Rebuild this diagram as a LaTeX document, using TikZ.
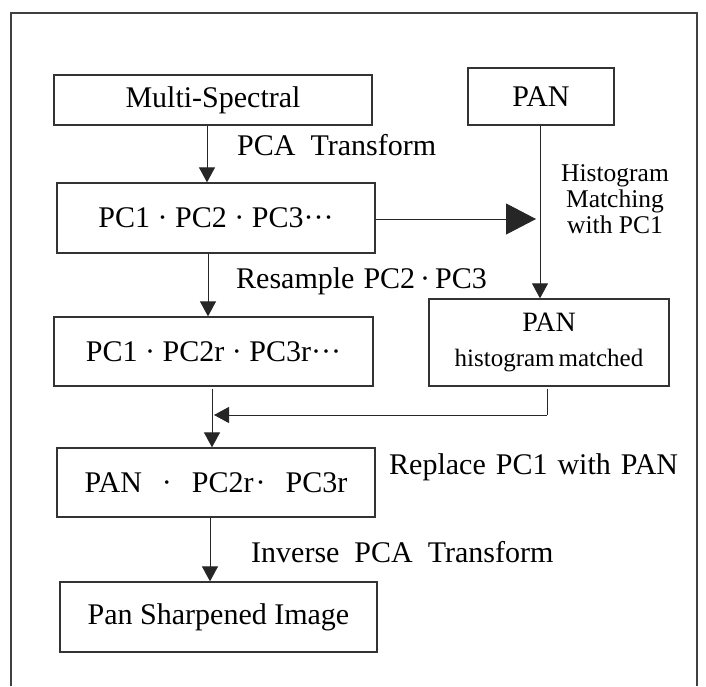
\documentclass[tikz,border=0pt]{standalone}
\usepackage{fontspec}
\setmainfont{Liberation Serif}
\usetikzlibrary{arrows.meta}
\begin{document}
\begin{tikzpicture}[x=1pt,y=-1pt,
  box/.style={draw=black!80, line width=1.3pt, minimum width=#1, inner sep=0pt,
    font=\fontsize{30}{34}\selectfont},
  lbl/.style={anchor=west, inner sep=0pt, font=\fontsize{30}{34}\selectfont},
  small/.style={inner sep=0pt, align=center, font=\fontsize{25.5}{26}\selectfont},
  arr/.style={draw=black!85, line width=1pt, -{Triangle[length=15pt,width=16pt]}},
  bigarr/.style={draw=black!85, line width=1pt, -{Triangle[length=30pt,width=31pt]}},
  plain/.style={draw=black!85, line width=1pt}]
\useasboundingbox (0,0) rectangle (706,686);
% outer frame, open at the bottom
\draw[draw=black!75, line width=1.5pt] (11,686) -- (11,13) -- (697,13) -- (697,686);

% boxes
\node[box=318pt, minimum height=50pt] (ms) at (213,100) {Multi-Spectral};
\node[box=146pt, minimum height=57pt] (pan) at (541,96.5) {PAN};
\node[box=318pt, minimum height=70pt] (pc) at (216,218) {PC1 · PC2 · PC3···};
\node[box=319pt, minimum height=69pt] (pcr) at (213.5,351.5) {PC1 · PC2r · PC3r···};
\node[box=240pt, minimum height=87pt, align=center,
      font=\fontsize{25}{35}\selectfont] (panm) at (549,342.5)
  {{\fontsize{28}{35}\selectfont PAN}\\histogram\hspace{4pt}matched};
\node[box=318pt, minimum height=69pt] (pp) at (216,482.5)
  {PAN\hspace{20pt}·\hspace{20pt}PC2r\hspace{2pt}·\hspace{20pt}PC3r};
\node[box=317pt, minimum height=70pt] (ps) at (218.5,617) {Pan Sharpened Image};

% labels
\node[lbl] (l1) at (237,145) {PCA\ \ Transform};
\node[lbl] (l2) at (236,281) {Resample\hspace{9pt}PC2\hspace{5pt}·\hspace{5pt}PC3};
\node[lbl] (l3) at (389,467) {Replace\hspace{10pt}PC1\hspace{10pt}with\hspace{10pt}PAN};
\node[lbl] (l4) at (251,552) {Inverse\ \ PCA\ \ Transform};
\node[small] (l5) at (615,199) {Histogram\\Matching\\with PC1};

% connector columns
\coordinate (c1) at (207,0);
\coordinate (c2) at (208,0);
\coordinate (c3) at (212,0);
\coordinate (c4) at (210,0);
\coordinate (c5) at (547,0);
\coordinate (bend) at (547,415);

% connectors
\draw[arr] (ms.south -| c1) -- (pc.north -| c1);
\draw[arr] (pan.south -| 540,0) -- (panm.north -| 540,0);
\draw[bigarr, shorten >=4pt] (pc.east |- 0,219) -- (540,219);
\draw[arr] (pc.south -| c2) -- (pcr.north -| c2);
\draw[arr] (pcr.south -| c3) ++(0,2) -- (pp.north -| c3);
\draw[plain] (panm.south -| c5) ++(0,2) -- (bend);
\draw[arr, shorten >=2pt] (bend) -- (bend -| c3);
\draw[arr] (pp.south -| c4) -- (ps.north -| c4);
\end{tikzpicture}
\end{document}
